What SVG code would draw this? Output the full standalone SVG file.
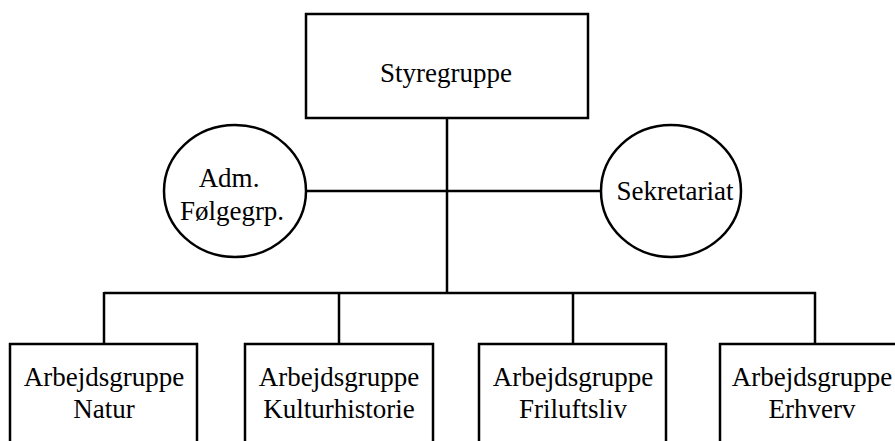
<svg xmlns="http://www.w3.org/2000/svg" width="895" height="441" viewBox="0 0 895 441">
<style>
.n{fill:#fff;stroke:#000;stroke-width:2.5}
.c{stroke:#000;stroke-width:2.5;fill:none}
text{font-family:'Liberation Serif',Tinos,'Times New Roman','DejaVu Serif',serif;font-size:27px;fill:#000;text-anchor:middle}
</style>
<rect width="895" height="441" fill="#fff"/>
<g id="connectors">
<line class="c" x1="447" y1="118" x2="447" y2="293"/>
<line class="c" x1="306" y1="191" x2="600" y2="191"/>
<line class="c" x1="104" y1="293" x2="816" y2="293"/>
<line class="c" x1="104" y1="292" x2="104" y2="344"/>
<line class="c" x1="339" y1="292" x2="339" y2="344"/>
<line class="c" x1="573" y1="292" x2="573" y2="344"/>
<line class="c" x1="815" y1="292" x2="815" y2="344"/>
</g>
<g id="styregruppe">
<rect class="n" x="306" y="14" width="282" height="104"/>
<text x="446" y="82">Styregruppe</text>
</g>
<g id="adm">
<ellipse class="n" cx="235" cy="191" rx="71" ry="66"/>
<text x="229" y="187">Adm.</text>
<text x="232" y="220">Følgegrp.</text>
</g>
<g id="sekretariat">
<ellipse class="n" cx="671" cy="191" rx="70" ry="66"/>
<text x="675" y="200">Sekretariat</text>
</g>
<g id="natur">
<rect class="n" x="10" y="344" width="187" height="110"/>
<text x="104" y="386">Arbejdsgruppe</text>
<text x="104" y="418">Natur</text>
</g>
<g id="kulturhistorie">
<rect class="n" x="245" y="344" width="188" height="110"/>
<text x="339" y="386">Arbejdsgruppe</text>
<text x="339" y="418">Kulturhistorie</text>
</g>
<g id="friluftsliv">
<rect class="n" x="479" y="344" width="187" height="110"/>
<text x="573" y="386">Arbejdsgruppe</text>
<text x="573" y="418">Friluftsliv</text>
</g>
<g id="erhverv">
<rect class="n" x="720" y="344" width="188" height="110"/>
<text x="812" y="386">Arbejdsgruppe</text>
<text x="812" y="418">Erhverv</text>
</g>
</svg>
